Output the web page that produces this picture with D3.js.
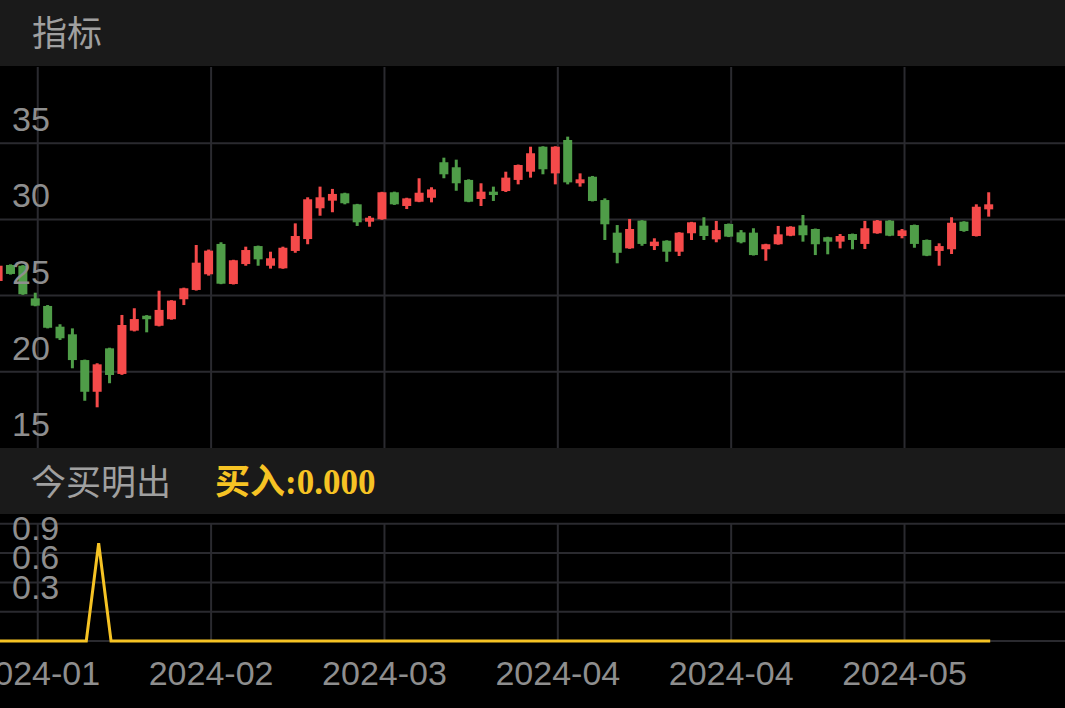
<!DOCTYPE html>
<html><head><meta charset="utf-8">
<script src="https://cdn.jsdelivr.net/npm/d3@7"></script>
<style>html,body{margin:0;padding:0;background:#000;overflow:hidden}svg{display:block}</style>
</head><body><svg id="c" width="1065" height="708"></svg>
<script>
const dates = [
"2024-01-24","2024-01-25","2024-01-26","2024-01-29","2024-01-30","2024-01-31",
"2024-02-01","2024-02-02","2024-02-05","2024-02-06","2024-02-07","2024-02-08","2024-02-19","2024-02-20","2024-02-21","2024-02-22","2024-02-23","2024-02-26","2024-02-27","2024-02-28","2024-02-29",
"2024-03-01","2024-03-04","2024-03-05","2024-03-06","2024-03-07","2024-03-08","2024-03-11","2024-03-12","2024-03-13","2024-03-14","2024-03-15","2024-03-18","2024-03-19","2024-03-20","2024-03-21","2024-03-22","2024-03-25","2024-03-26","2024-03-27","2024-03-28","2024-03-29",
"2024-04-01","2024-04-02","2024-04-03","2024-04-08","2024-04-09","2024-04-10","2024-04-11","2024-04-12","2024-04-15","2024-04-16","2024-04-17","2024-04-18","2024-04-19","2024-04-22","2024-04-23","2024-04-24","2024-04-25","2024-04-26","2024-04-29","2024-04-30",
"2024-05-06","2024-05-07","2024-05-08","2024-05-09","2024-05-10","2024-05-13","2024-05-14","2024-05-15","2024-05-16","2024-05-17","2024-05-20","2024-05-21","2024-05-22","2024-05-23","2024-05-24","2024-05-27","2024-05-28","2024-05-29","2024-05-30"];
const open = [
25.96,27.01,26.96,24.82,24.32,22.96,22.46,20.77,18.69,21.54,
19.86,22.70,23.68,23.02,23.45,24.76,25.37,26.40,28.39,25.76,
27.07,28.25,26.96,26.79,27.93,28.71,30.73,31.23,31.71,30.99,
29.85,30.01,31.78,30.88,31.16,31.42,33.75,33.42,32.59,31.34,
31.82,31.86,32.59,33.13,34.77,33.02,35.21,32.37,32.80,31.27,
29.13,28.10,29.92,28.25,28.60,27.88,29.09,29.59,28.69,29.70,
29.15,29.13,28.04,28.37,28.93,29.61,29.37,28.83,28.54,29.04,
28.39,29.09,29.92,28.91,29.63,28.65,27.93,28.04,29.85,28.91,
30.66];
const close = [
26.96,26.42,25.09,24.34,22.89,22.20,20.77,18.69,20.49,19.79,
23.07,23.46,23.45,24.06,24.67,25.48,27.16,27.95,25.78,27.32,
27.99,27.38,27.45,28.14,28.91,31.32,31.45,31.67,31.06,29.81,
30.11,31.78,30.99,31.38,31.75,31.97,32.96,32.37,31.16,31.82,
31.60,32.74,33.57,34.34,33.29,34.77,32.43,32.63,31.21,29.68,
27.81,29.37,28.39,28.54,27.88,29.13,29.81,28.91,29.30,28.87,
28.50,27.66,28.37,29.02,29.52,28.96,28.37,28.54,28.91,28.65,
29.42,29.92,28.93,29.28,28.39,27.62,28.25,29.78,29.24,30.83,
30.99];
const high = [
27.05,27.05,27.00,25.19,24.38,23.12,22.85,20.80,20.56,21.58,
23.73,24.17,23.72,25.32,24.70,25.52,28.32,28.02,28.50,27.35,
28.21,28.28,27.88,28.21,29.74,31.45,32.15,32.00,31.75,31.02,
30.22,31.81,31.82,31.42,32.70,32.11,34.05,33.92,32.63,32.37,
32.15,33.13,33.60,34.77,34.80,34.80,35.43,33.02,32.85,31.38,
29.63,30.03,29.95,28.76,28.63,29.16,29.84,30.14,29.90,29.73,
29.30,29.42,28.40,29.57,29.55,30.29,29.40,28.86,29.04,29.07,
29.90,29.96,29.95,29.37,29.66,28.68,28.43,30.14,29.88,30.99,
31.78];
const low = [
25.58,26.38,25.05,24.30,22.85,22.09,20.23,18.10,17.67,19.25,
19.80,22.65,22.59,22.98,23.42,24.38,25.33,26.31,25.75,25.73,
26.96,26.96,26.77,26.76,27.81,28.37,30.24,30.47,30.99,29.57,
29.52,29.98,30.95,30.68,31.13,31.12,32.70,31.88,31.13,30.88,
31.21,31.80,32.30,32.74,32.96,32.30,32.30,32.15,31.18,28.65,
27.12,28.07,28.27,27.99,27.22,27.60,28.65,28.65,28.50,28.84,
28.43,27.63,27.29,28.34,28.90,28.54,27.66,27.71,28.10,28.04,
28.06,29.06,28.90,28.76,28.14,27.59,26.96,27.73,29.19,28.88,
30.18];
const buySignal = [
0,0,0,0,0,0,0,0,1,0,
0,0,0,0,0,0,0,0,0,0,
0,0,0,0,0,0,0,0,0,0,
0,0,0,0,0,0,0,0,0,0,
0,0,0,0,0,0,0,0,0,0,
0,0,0,0,0,0,0,0,0,0,
0,0,0,0,0,0,0,0,0,0,
0,0,0,0,0,0,0,0,0,0,
0];
const priceLabels = [35,30,25,20,15];
const priceGrid = [20,25,30,35];
const signalLabels = [0.9,0.6,0.3];
const signalGrid = [0,0.3,0.6,0.9,1.2];
const panelTitle = "指标";
const indicatorName = "今买明出";
const indicatorValue = "买入:" + d3.format(".3f")(buySignal[buySignal.length-1]);

const W = 1065, H = 708;
const UP = "#f54a4a", DOWN = "#4f9d48", GRID = "#2a2a2f", TXT = "#8e8e8e", GOLD = "#f6c324", BAND = "#1a1a1a";
const svg = d3.select("#c");
const N = dates.length;
const x = d3.scaleLinear().domain([0, N - 1]).range([-1.9, 988.7]);
const y = d3.scaleLinear().domain([15, 40]).range([448, 67]);
const ys = d3.scaleLinear().domain([0, 1.3]).range([641, 514]);
const tickIdx = d3.range(3, N, 14);
const gx = i => x(i) + 2.5;
const latin = "'Liberation Sans', Arial, Helvetica, sans-serif";
const cjk = "'Noto Sans CJK SC', 'Liberation Sans', sans-serif";

svg.append("rect").attr("width", W).attr("height", H).attr("fill", "#000");

// main grid
const g = svg.append("g");
g.selectAll("line.h").data(priceGrid).join("line")
  .attr("x1", 0).attr("x2", W).attr("y1", d => y(d)).attr("y2", d => y(d))
  .attr("stroke", GRID).attr("stroke-width", 2);
g.selectAll("line.v").data(tickIdx).join("line")
  .attr("x1", gx).attr("x2", gx).attr("y1", y(40)).attr("y2", y(15))
  .attr("stroke", GRID).attr("stroke-width", 2);

// candles
const idx = d3.range(N);
const cg = svg.append("g");
cg.selectAll("line.w").data(idx).join("line")
  .attr("x1", i => x(i)).attr("x2", i => x(i))
  .attr("y1", i => y(high[i])).attr("y2", i => y(low[i]))
  .attr("stroke", i => close[i] >= open[i] ? UP : DOWN).attr("stroke-width", 3);
cg.selectAll("rect").data(idx).join("rect")
  .attr("x", i => x(i) - 4.5).attr("width", 9)
  .attr("y", i => y(Math.max(open[i], close[i])))
  .attr("height", i => Math.max(2, Math.abs(y(open[i]) - y(close[i]))))
  .attr("fill", i => close[i] >= open[i] ? UP : DOWN);

// y labels main
svg.selectAll("text.pl").data(priceLabels).join("text")
  .attr("x", 12).attr("y", d => y(d) - 12)
  .attr("fill", TXT).attr("font-family", latin).attr("font-size", 34)
  .text(d => d);

// header band
svg.append("rect").attr("x", 0).attr("y", 0).attr("width", W).attr("height", 66).attr("fill", BAND);
svg.append("text").attr("x", 32).attr("y", 46).attr("fill", "#a0a0a0")
  .attr("font-family", cjk).attr("font-size", 35).text(panelTitle);

// sub band
svg.append("rect").attr("x", 0).attr("y", 448).attr("width", W).attr("height", 66).attr("fill", BAND);
svg.append("text").attr("x", 31).attr("y", 495).attr("fill", "#a0a0a0")
  .attr("font-family", cjk).attr("font-size", 35).text(indicatorName);
svg.append("text").attr("x", 215).attr("y", 494).attr("fill", GOLD)
  .attr("font-family", "'Liberation Serif', 'Times New Roman', 'Noto Sans CJK SC', serif")
  .attr("font-weight", "bold").attr("font-size", 35).text(indicatorValue);

// sub grid
const sg = svg.append("g");
sg.selectAll("line.h").data(signalGrid).join("line")
  .attr("x1", 0).attr("x2", W).attr("y1", d => ys(d)).attr("y2", d => ys(d))
  .attr("stroke", GRID).attr("stroke-width", 2);
sg.selectAll("line.v").data(tickIdx).join("line")
  .attr("x1", gx).attr("x2", gx).attr("y1", ys(1.2)).attr("y2", ys(0))
  .attr("stroke", GRID).attr("stroke-width", 2);

// signal line
svg.append("path").datum(idx)
  .attr("d", d3.line().x(i => x(i) + 1.5).y(i => ys(buySignal[i])))
  .attr("fill", "none").attr("stroke", GOLD).attr("stroke-width", 3).attr("stroke-linejoin", "miter");

svg.selectAll("text.sl").data(signalLabels).join("text")
  .attr("x", 12).attr("y", d => ys(d) - 13)
  .attr("fill", TXT).attr("font-family", latin).attr("font-size", 34)
  .text(d => d3.format(".1f")(d));

// x labels
svg.selectAll("text.xl").data(tickIdx).join("text")
  .attr("x", gx).attr("y", 685).attr("text-anchor", "middle")
  .attr("fill", TXT).attr("font-family", latin).attr("font-size", 34)
  .text(i => dates[i].slice(0, 7));
</script>
</body></html>
